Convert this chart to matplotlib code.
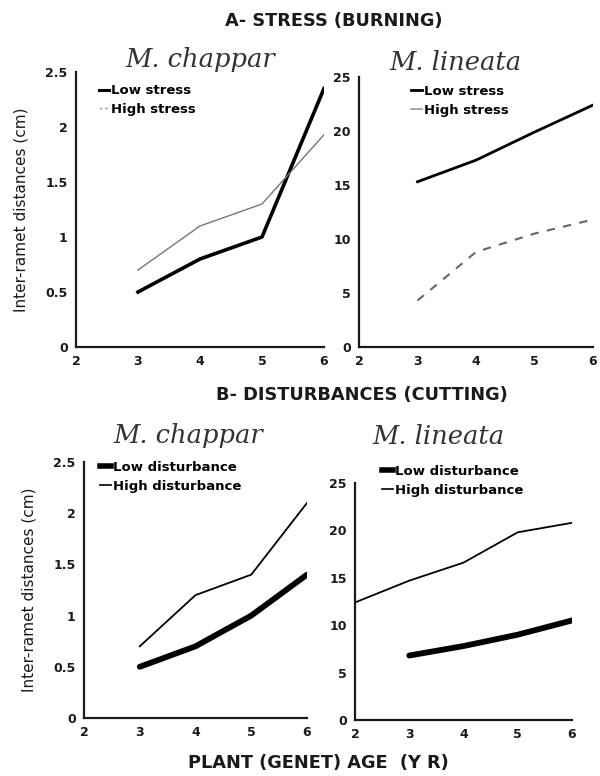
import matplotlib
matplotlib.use("Agg")
import matplotlib.pyplot as plt
from matplotlib.lines import Line2D

ages = [3, 4, 5, 6]
ages_b_high_lin = [2, 3, 4, 5, 6]

# A - stress (burning)
chappar_low_stress = [0.5, 0.8, 1.0, 2.35]
chappar_high_stress = [0.7, 1.1, 1.3, 1.93]
lineata_low_stress = [15.3, 17.3, 19.9, 22.4]
lineata_high_stress = [4.3, 8.8, 10.5, 11.8]

# B - disturbances (cutting)
chappar_low_dist = [0.5, 0.7, 1.0, 1.4]
chappar_high_dist = [0.7, 1.2, 1.4, 2.1]
lineata_low_dist = [6.8, 7.8, 9.0, 10.5]
lineata_high_dist = [12.4, 14.7, 16.6, 19.8, 20.8]

xticks = [2, 3, 4, 5, 6]
yticks_ch = [0, 0.5, 1, 1.5, 2, 2.5]
yticklabels_ch = ["0", "0.5", "1", "1.5", "2", "2.5"]
yticks_li = [0, 5, 10, 15, 20, 25]

plt.rcParams['font.family'] = ['DejaVu Sans']

fig = plt.figure(figsize=(6, 7.76), dpi=100)
W, H = 600, 776
INK = '#1a1a1a'

def ax_px(x0, x1, y0, y1):
    return fig.add_axes([x0 / W, 1 - y1 / H, (x1 - x0) / W, (y1 - y0) / H])

def style(ax, ymax, yticks, ylabels):
    ax.set_xlim(2, 6)
    ax.set_ylim(0, ymax)
    ax.set_xticks(xticks)
    ax.set_xticklabels([str(t) for t in xticks], fontsize=9, fontweight='bold', color=INK)
    ax.set_yticks(yticks)
    ax.set_yticklabels(ylabels, fontsize=9, fontweight='bold', color=INK)
    ax.tick_params(length=0, pad=6)
    for s in ['top', 'right']:
        ax.spines[s].set_visible(False)
    for s in ['left', 'bottom']:
        ax.spines[s].set_linewidth(1.6)
        ax.spines[s].set_color(INK)
    ax.patch.set_alpha(0)

title_kw = dict(family=['DejaVu Serif'], style='italic', fontsize=18.5, color='#333333')
leg_kw = dict(frameon=False, prop={'size': 9.5, 'weight': 'bold'}, handlelength=0.8,
              handletextpad=0.15, labelspacing=0.45, borderaxespad=0, loc='upper left')
head_kw = dict(ha='center', va='center', fontsize=12.8, fontweight='bold', color=INK)

# A left
a1 = ax_px(76, 324, 72, 347)
style(a1, 2.5, yticks_ch, yticklabels_ch)
a1.plot(ages, chappar_low_stress, color='black', lw=2.6)
a1.plot(ages, chappar_high_stress, color='#777777', lw=1.0)
a1.legend(handles=[Line2D([], [], color='black', lw=2.2), Line2D([], [], color='#999999', lw=1, ls=(0, (2, 2)))],
          labels=['Low stress', 'High stress'], bbox_to_anchor=(0.07, 0.975), **leg_kw)
a1.set_ylabel('Inter-ramet distances (cm)', fontsize=11, labelpad=12, color=INK)
fig.text(200 / W, 1 - 60 / H, 'M. chappar', ha='center', va='center', **title_kw)

# A right
a2 = ax_px(359, 593, 77, 347)
style(a2, 25, yticks_li, [str(t) for t in yticks_li])
a2.plot(ages, lineata_low_stress, color='black', lw=2.0)
a2.plot(ages, lineata_high_stress, color='#666666', lw=1.5, ls=(0, (4, 4)))
a2.legend(handles=[Line2D([], [], color='black', lw=2), Line2D([], [], color='#999999', lw=1.2)],
          labels=['Low stress', 'High stress'], bbox_to_anchor=(0.2, 0.99), **leg_kw)
fig.text(455 / W, 1 - 62 / H, 'M. lineata', ha='center', va='center', **title_kw)

fig.text(334 / W, 1 - 21 / H, 'A- STRESS (BURNING)', **head_kw)
fig.text(362 / W, 1 - 395 / H, 'B- DISTURBANCES (CUTTING)', **head_kw)

# B left
b1 = ax_px(84, 307, 462, 718)
style(b1, 2.5, yticks_ch, yticklabels_ch)
b1.plot(ages, chappar_low_dist, color='black', lw=4.2, solid_capstyle='round')
b1.plot(ages, chappar_high_dist, color='black', lw=1.3)
b1.legend(handles=[Line2D([], [], color='black', lw=4), Line2D([], [], color='black', lw=1.2)],
          labels=['Low disturbance', 'High disturbance'], bbox_to_anchor=(0.05, 1.025), **leg_kw)
b1.set_ylabel('Inter-ramet distances (cm)', fontsize=11, labelpad=12, color=INK)
fig.text(188 / W, 1 - 435 / H, 'M. chappar', ha='center', va='center', **title_kw)

# B right
b2 = ax_px(355, 572, 483, 720)
style(b2, 25, yticks_li, [str(t) for t in yticks_li])
b2.plot(ages, lineata_low_dist, color='black', lw=4.2, solid_capstyle='round')
b2.plot(ages_b_high_lin, lineata_high_dist, color='black', lw=1.3)
b2.legend(handles=[Line2D([], [], color='black', lw=4), Line2D([], [], color='black', lw=1.2)],
          labels=['Low disturbance', 'High disturbance'], bbox_to_anchor=(0.1, 1.10), **leg_kw)
fig.text(438 / W, 1 - 437 / H, 'M. lineata', ha='center', va='center', **title_kw)

fig.text(318 / W, 1 - 763 / H, 'PLANT (GENET) AGE  (Y R)', **head_kw)

fig.savefig('out.png', dpi=100)
